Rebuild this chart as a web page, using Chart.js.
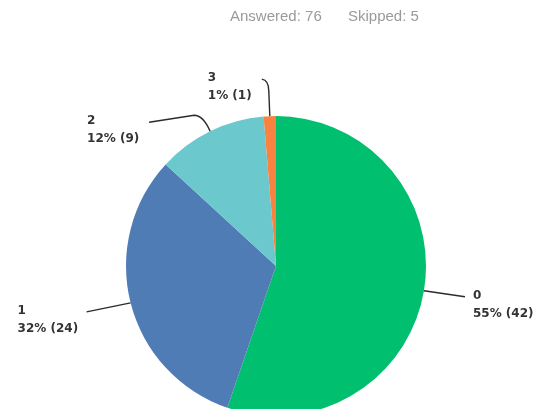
<!DOCTYPE html>
<html>
<head>
<meta charset="utf-8">
<script src="https://cdn.jsdelivr.net/npm/chart.js@4"></script>
<style>
  html, body { margin: 0; padding: 0; background: #fff; overflow: hidden; }
  #wrap { width: 538px; height: 430px; position: relative; }
</style>
</head>
<body>
<div id="wrap"><canvas id="c" width="538" height="430"></canvas></div>
<script>
const categories = ['0', '1', '2', '3'];
const counts = [42, 24, 9, 1];
const colors = ['#00BF6F', '#507CB6', '#6BC8CD', '#F8823F'];
const answered = 76;
const skipped = 5;

const total = counts.reduce((a, b) => a + b, 0);

// per-label leader line layout (relative to the slice's mid-edge point)
const leader = [
  { kind: 'straight', end: [41, 6], textDx: 8 },
  { kind: 'straight', end: [-44, 9], textDx: -69 },
  { kind: 'elbow2', end: [-61, -9], textDx: -62 },
  { kind: 'elbow3', end: [-8, -37], textDx: -54 }
];

const labelPlugin = {
  id: 'labels',
  afterDraw(chart) {
    const ctx = chart.ctx;
    ctx.save();
    // header
    ctx.font = '15px "Liberation Sans", Arial, sans-serif';
    ctx.fillStyle = '#9a9a9a';
    ctx.textBaseline = 'middle';
    ctx.textAlign = 'left';
    ctx.fillText('Answered: ' + answered, 230, 17);
    ctx.fillText('Skipped: ' + skipped, 348, 17);

    const meta = chart.getDatasetMeta(0);
    meta.data.forEach((arc, i) => {
      const mid = (arc.startAngle + arc.endAngle) / 2;
      const r = arc.outerRadius;
      const sx = arc.x + Math.cos(mid) * r;
      const sy = arc.y + Math.sin(mid) * r;
      const L = leader[i];
      const ex = sx + L.end[0], ey = sy + L.end[1];
      ctx.strokeStyle = '#2b2b2b';
      ctx.lineWidth = 1.4;
      ctx.beginPath();
      ctx.moveTo(sx, sy);
      if (L.kind === 'elbow2') {
        ctx.quadraticCurveTo(sx - 7, sy - 16, sx - 16, sy - 16);
        ctx.lineTo(ex, ey);
      } else if (L.kind === 'elbow3') {
        ctx.lineTo(sx - 1, sy - 25);
        ctx.quadraticCurveTo(sx - 1, sy - 36, ex, ey);
      } else {
        ctx.lineTo(ex, ey);
      }
      ctx.stroke();

      const pct = Math.round(counts[i] / total * 100);
      ctx.font = 'bold 12px "DejaVu Sans", sans-serif';
      ctx.fillStyle = '#333333';
      ctx.textAlign = 'left';
      ctx.textBaseline = 'middle';
      const tx = ex + L.textDx;
      ctx.fillText(categories[i], tx, ey - 1);
      ctx.fillText(pct + '% (' + counts[i] + ')', tx, ey + 17);
    });
    ctx.restore();
  }
};

new Chart(document.getElementById('c'), {
  type: 'pie',
  data: {
    labels: categories,
    datasets: [{
      data: counts,
      backgroundColor: colors,
      borderWidth: 0
    }]
  },
  options: {
    responsive: false,
    animation: false,
    layout: { padding: { left: 126, right: 112, top: 116, bottom: 14 } },
    plugins: {
      legend: { display: false },
      tooltip: { enabled: false },
      title: { display: false }
    }
  },
  plugins: [labelPlugin]
});
</script>
</body>
</html>
